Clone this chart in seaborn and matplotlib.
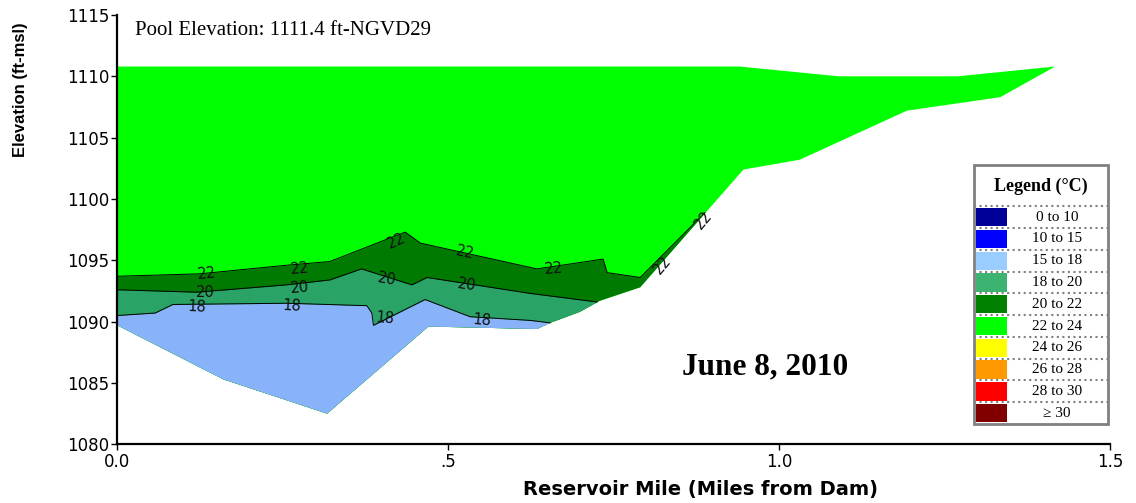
import numpy as np
import pandas as pd
import seaborn as sns
import matplotlib.pyplot as plt
from matplotlib.patches import Polygon, Rectangle

# water surface and lake bed (mile from dam, elevation ft)
surface_mile = [0.0, 0.94, 1.09, 1.27, 1.417]
surface_elev = [1110.8, 1110.8, 1110.0, 1110.0, 1110.8]
bed_mile = [0.0, 0.160, 0.317, 0.470, 0.634, 0.654, 0.699, 0.729, 0.790, 0.946, 1.031, 1.193, 1.334, 1.417]
bed_elev = [1089.7, 1085.3, 1082.5, 1089.6, 1089.4, 1089.9, 1090.8, 1091.7, 1092.8, 1102.4, 1103.2, 1107.2, 1108.3, 1110.8]

# isotherms
iso22_mile = [0.0, 0.125, 0.256, 0.321, 0.435, 0.458, 0.634, 0.734, 0.740, 0.790, 0.888]
iso22_elev = [1093.7, 1093.9, 1094.6, 1094.9, 1097.3, 1096.4, 1094.3, 1095.1, 1094.0, 1093.6, 1098.9]
iso20_mile = [0.0, 0.120, 0.256, 0.321, 0.369, 0.445, 0.468, 0.624, 0.725]
iso20_elev = [1092.6, 1092.4, 1093.0, 1093.4, 1094.3, 1093.0, 1093.6, 1092.3, 1091.6]
iso18_mile = [0.0, 0.057, 0.084, 0.256, 0.377, 0.3845, 0.387, 0.465, 0.533, 0.624, 0.654]
iso18_elev = [1090.5, 1090.7, 1091.4, 1091.5, 1091.3, 1090.7, 1089.7, 1091.8, 1090.4, 1090.1, 1089.9]

# contour labels: text, mile, elev, rotation
clabel_text = ["22", "22", "22", "22", "22", "22", "22", "20", "20", "20", "20", "18", "18", "18", "18"]
clabel_mile = [0.135, 0.276, 0.422, 0.525, 0.659, 0.823, 0.885, 0.1325, 0.276, 0.407, 0.528, 0.120, 0.264, 0.405, 0.551]
clabel_elev = [1093.9, 1094.3, 1096.6, 1095.6, 1094.3, 1094.6, 1098.3, 1092.4, 1092.8, 1093.5, 1093.0, 1091.2, 1091.3, 1090.3, 1090.1]
clabel_rot = [5, 5, 25, -12, 5, 50, 50, 0, 5, -10, -8, -3, -3, -5, -5]

legend_labels = ["0 to 10", "10 to 15", "15 to 18", "18 to 20", "20 to 22",
                 "22 to 24", "24 to 26", "26 to 28", "28 to 30", "\u2265 30"]
legend_colors = ["#000099", "#0000ff", "#99ccff", "#3cb371", "#007f00",
                 "#00ff00", "#ffff00", "#ff9900", "#ff0000", "#800000"]

sns.set_theme(style="ticks")
plt.rcParams['font.family'] = ['DejaVu Sans']
plt.rcParams['text.color'] = 'black'
plt.rcParams['axes.labelcolor'] = 'black'

fig = plt.figure(figsize=(11.36, 5.03), dpi=100)
ax = fig.add_axes([0.1033, 0.1167, 0.8739, 0.8535])
ax.set_xlim(0, 1.5)
ax.set_ylim(1080, 1115)

lake = Polygon(np.column_stack([surface_mile + bed_mile[::-1], surface_elev + bed_elev[::-1]]),
               closed=True, facecolor="#00ff00", edgecolor="none", zorder=1)
ax.add_patch(lake)

for m, e, c in [(iso22_mile, iso22_elev, "#007a00"),
                (iso20_mile, iso20_elev, "#2aa366"),
                (iso18_mile, iso18_elev, "#88b3fa")]:
    coll = ax.fill_between(m, e, 1080, color=c, lw=0, zorder=2)
    coll.set_clip_path(lake)
    df = pd.DataFrame({"mile": m, "elev": e})
    sns.lineplot(data=df, x="mile", y="elev", ax=ax, color="black", lw=0.7,
                 sort=False, estimator=None, zorder=3)

for t, m, e, r in zip(clabel_text, clabel_mile, clabel_elev, clabel_rot):
    ax.text(m, e, t, ha="center", va="center", rotation=r, fontsize=10.5,
            color="#111111", zorder=4)

ax.set_xticks([0, 0.5, 1.0, 1.5])
ax.set_xticklabels(["0.0", ".5", "1.0", "1.5"])
ax.set_yticks(np.arange(1080, 1116, 5))
ax.tick_params(direction="out", length=4, width=1, labelsize=12, pad=2, colors="black")
for s in ["left", "bottom"]:
    ax.spines[s].set_linewidth(1.6)
    ax.spines[s].set_color("black")
sns.despine(ax=ax)

ax.set_xlabel("Reservoir Mile (Miles from Dam)", fontsize=14, fontweight="bold")
ax.xaxis.set_label_coords(0.587, -0.082)
ax.set_ylabel("Elevation (ft-msl)", fontsize=12, fontweight="bold", family="Liberation Sans")
ax.yaxis.set_label_coords(-0.09, 0.825)

ax.text(0.0178, 0.965, "Pool Elevation: 1111.4 ft-NGVD29", transform=ax.transAxes,
        ha="left", va="center", family="Liberation Serif", fontsize=15)
ax.text(0.979, 1086.3, "June 8, 2010", ha="center", va="center",
        family="Liberation Serif", fontweight="bold", fontsize=22.5)

# legend table
lax = fig.add_axes([0.8574, 0.157, 0.118, 0.515])
lax.set_xlim(0, 1)
lax.set_ylim(0, 11.9)
lax.axis("off")
lax.add_patch(Rectangle((0, 0), 1, 11.9, fill=False, edgecolor="#808080", lw=2, clip_on=False))
lax.text(0.5, 10.9, "Legend (\u00b0C)", ha="center", va="center",
         family=["Liberation Serif", "DejaVu Serif"], fontweight="bold", fontsize=13)
for i, (lab, col) in enumerate(zip(legend_labels, legend_colors)):
    y0 = 9 - i
    lax.add_patch(Rectangle((0.015, y0 + 0.08), 0.23, 0.84, facecolor=col, edgecolor="none"))
    lax.text(0.62, y0 + 0.5, lab, ha="center", va="center",
             family=["Liberation Serif", "DejaVu Serif"], fontsize=11)
    lax.plot([0, 1], [y0 + 1, y0 + 1], ls=":", color="#808080", lw=1.5)

fig.savefig("out.png", dpi=100)
